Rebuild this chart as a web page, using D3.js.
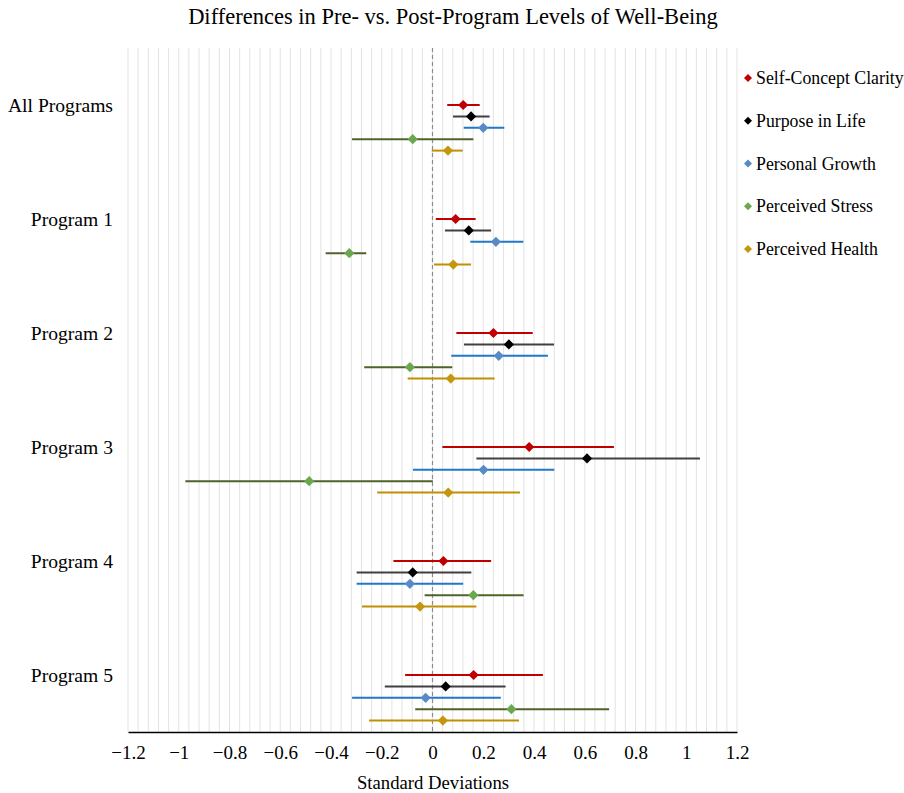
<!DOCTYPE html>
<html><head><meta charset="utf-8">
<script src="https://cdn.jsdelivr.net/npm/d3@7"></script>
<style>body{margin:0;background:#fff}svg{display:block}</style>
</head><body><svg id="c" width="904" height="793"></svg>
<script>
const groups = ["All Programs","Program 1","Program 2","Program 3","Program 4","Program 5"];
const seriesNames = ["Self-Concept Clarity","Purpose in Life","Personal Growth","Perceived Stress","Perceived Health"];
const markerColors = ["#C00000","#000000","#5A8AC6","#6AA84F","#C4960C"];
const lineColors = ["#C00000","#404040","#1F78C8","#4F6228","#C09000"];
// estimates per group: [Self-Concept, Purpose, Growth, Stress, Health]
const est = [
  [0.121, 0.152, 0.200, -0.078, 0.061],
  [0.091, 0.143, 0.250, -0.328, 0.082],
  [0.240, 0.301, 0.261, -0.089, 0.072],
  [0.381, 0.609, 0.201, -0.486, 0.062],
  [0.043, -0.078, -0.089, 0.161, -0.049],
  [0.162, 0.052, -0.027, 0.311, 0.041]
];
const lower = [
  [0.058, 0.081, 0.123, -0.317, -0.003],
  [0.013, 0.049, 0.149, -0.421, 0.006],
  [0.094, 0.124, 0.074, -0.269, -0.098],
  [0.039, 0.173, -0.077, -0.974, -0.218],
  [-0.154, -0.299, -0.299, -0.031, -0.278],
  [-0.108, -0.188, -0.317, -0.068, -0.250]
];
const upper = [
  [0.186, 0.225, 0.283, 0.161, 0.119],
  [0.170, 0.231, 0.358, -0.261, 0.152],
  [0.395, 0.479, 0.455, 0.078, 0.245],
  [0.715, 1.054, 0.480, 0.001, 0.345],
  [0.231, 0.153, 0.121, 0.359, 0.173],
  [0.435, 0.288, 0.269, 0.696, 0.341]
];
const xTicks = [-1.2,-1,-0.8,-0.6,-0.4,-0.2,0,0.2,0.4,0.6,0.8,1,1.2];

const FONT = "'Liberation Serif', 'Times New Roman', Times, 'DejaVu Serif', serif";
const svg = d3.select("#c");
const L = 128, R = 737, T = 48, B = 732;
const x = d3.scaleLinear().domain([-1.2,1.2]).range([L,R]);
const y = d3.scaleBand().domain(groups).range([T,B]);
const step = 11.4;

// grid every 0.04
const grid = d3.range(0,61).map(i => -1.2 + i*0.04);
svg.append("g").selectAll("line").data(grid).join("line")
  .attr("x1", d=>x(d)).attr("x2", d=>x(d)).attr("y1", T).attr("y2", B)
  .attr("stroke", "#e3e3e3").attr("stroke-width", 1);

// zero line
svg.append("line").attr("x1", x(0)).attr("x2", x(0)).attr("y1", T).attr("y2", B)
  .attr("stroke", "#8c8c8c").attr("stroke-width", 1.2).attr("stroke-dasharray", "4,3");

// axis
const ax = svg.append("g").attr("transform", `translate(0,${B})`)
  .call(d3.axisBottom(x).tickValues(xTicks).tickSize(0).tickPadding(14).tickFormat(d3.format("~g")));
ax.attr("font-family", null).attr("font-size", null);
ax.select(".domain").attr("stroke", "#000").attr("stroke-width", 1.5);
ax.selectAll("text").style("font-family", FONT).style("font-size", "19px").attr("fill", "#000");

// y labels
svg.append("g").selectAll("text").data(groups).join("text")
  .attr("x", 113).attr("y", d => y(d) + y.bandwidth()/2).attr("dy", "0.35em")
  .attr("text-anchor", "end").style("font-family", FONT).style("font-size", "19.6px").attr("fill", "#000").text(d => d);

// data
const rows = [];
groups.forEach((g,gi) => seriesNames.forEach((s,si) => rows.push({g, si, e: est[gi][si], lo: lower[gi][si], hi: upper[gi][si]})));
const cy = d => y(d.g) + y.bandwidth()/2 + d.si*step;
const plot = svg.append("g");
plot.selectAll("line.err").data(rows).join("line").attr("class","err")
  .attr("x1", d=>x(d.lo)).attr("x2", d=>x(d.hi)).attr("y1", cy).attr("y2", cy)
  .attr("stroke", d=>lineColors[d.si]).attr("stroke-width", 2);
plot.selectAll("path.pt").data(rows).join("path").attr("class","pt")
  .attr("d", d3.symbol().type(d3.symbolSquare).size(52))
  .attr("transform", d => `translate(${x(d.e)},${cy(d)}) rotate(45)`)
  .attr("fill", d=>markerColors[d.si]);

// title
svg.append("text").attr("x", 453).attr("y", 24).attr("text-anchor","middle")
  .style("font-family", FONT).style("font-size", "22.5px").attr("fill","#000").text("Differences in Pre- vs. Post-Program Levels of Well-Being");
svg.append("text").attr("x", 433).attr("y", 789).attr("text-anchor","middle")
  .style("font-family", FONT).style("font-size", "18.7px").attr("fill","#000").text("Standard Deviations");

// legend
const lg = svg.append("g").selectAll("g").data(seriesNames).join("g")
  .attr("transform", (d,i) => `translate(748,${78 + i*42.75})`);
lg.append("path").attr("d", d3.symbol().type(d3.symbolSquare).size(32)).attr("transform","rotate(45)")
  .attr("fill", (d,i)=>markerColors[i]);
lg.append("text").attr("x", 8).attr("dy","0.35em").style("font-family", FONT).style("font-size", "17.8px").attr("fill","#000").text(d=>d);
</script></body></html>
